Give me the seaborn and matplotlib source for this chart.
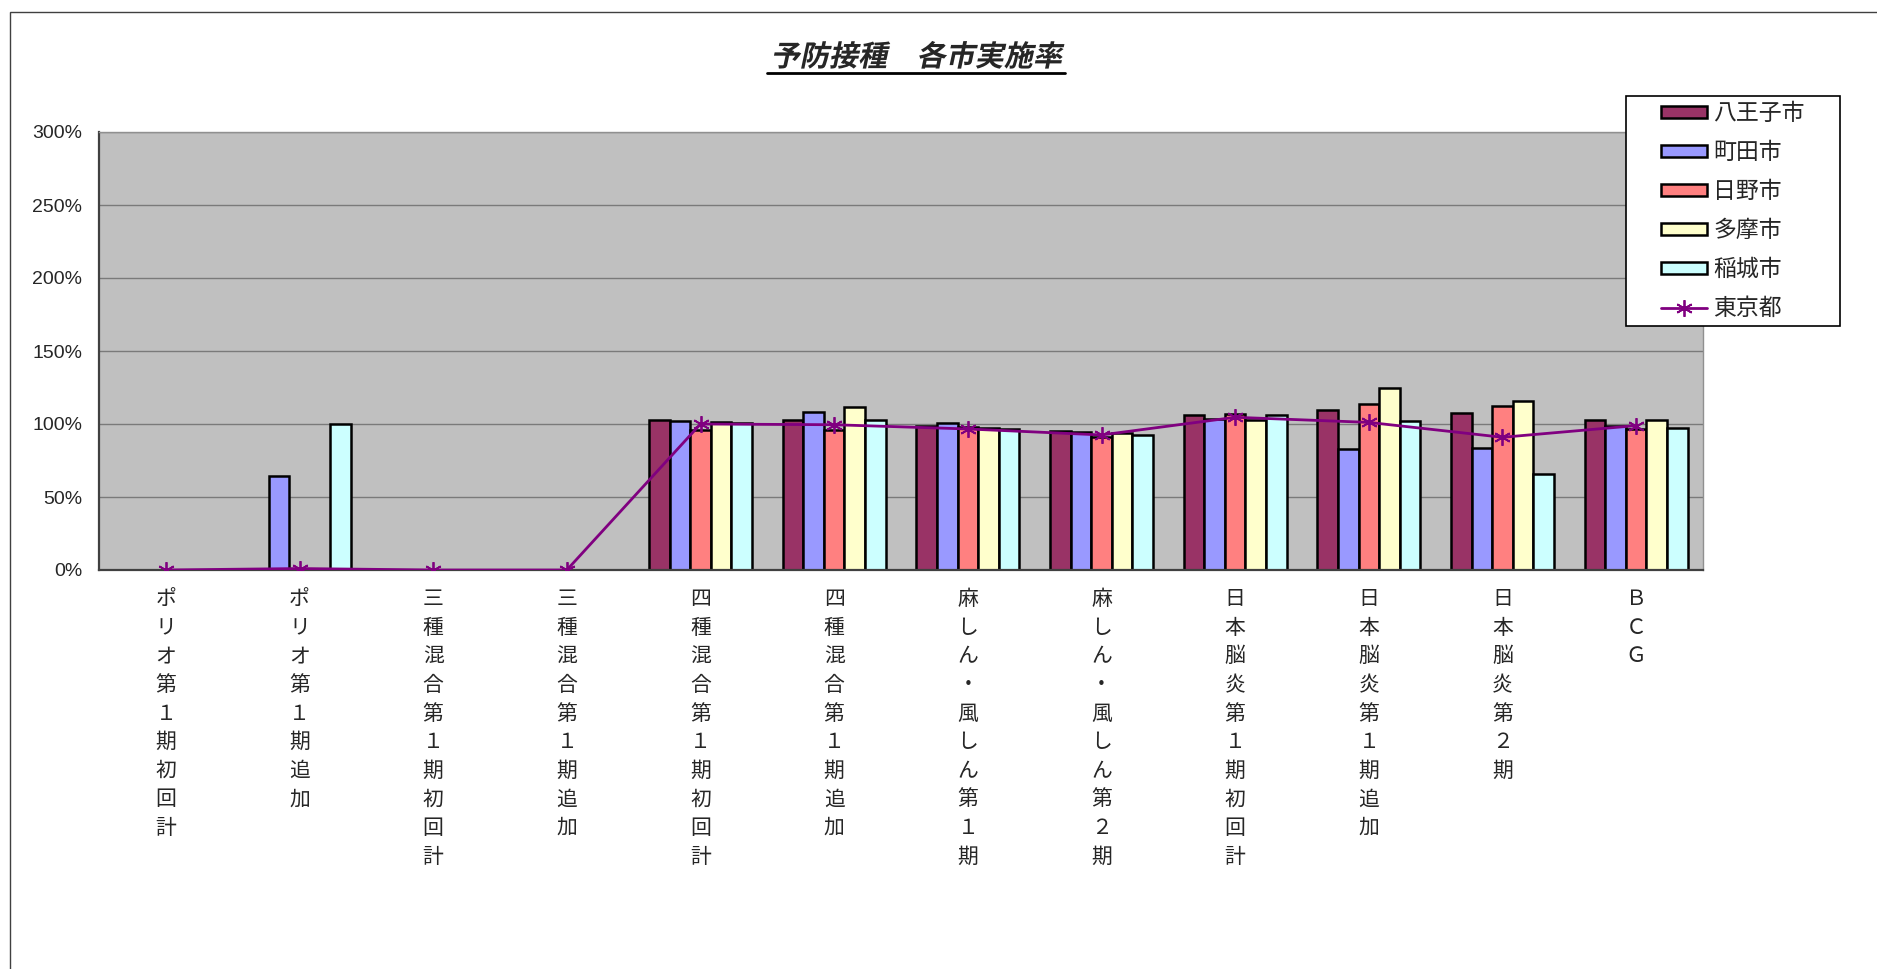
import numpy as np
import pandas as pd
import seaborn as sns
from matplotlib import pyplot as plt
from matplotlib import patheffects
from matplotlib.patches import Patch, Rectangle
from matplotlib.lines import Line2D
from matplotlib.ticker import PercentFormatter, MultipleLocator, FixedLocator
from matplotlib.transforms import Affine2D

# categories (vaccinations)
cats = ['ポリオ第１期初回計', 'ポリオ第１期追加', '三種混合第１期初回計', '三種混合第１期追加',
        '四種混合第１期初回計', '四種混合第１期追加', '麻しん・風しん第１期', '麻しん・風しん第２期',
        '日本脳炎第１期初回計', '日本脳炎第１期追加', '日本脳炎第２期', 'ＢＣＧ']
cities = ['八王子市', '町田市', '日野市', '多摩市', '稲城市']

# rates in %
hachioji = [0, 0, 0, 0, 102.7, 102.7, 98.4, 95.0, 106.2, 109.6, 107.3, 103.0]
machida = [0, 64.1, 0, 0, 101.8, 108.2, 100.7, 94.7, 103.4, 82.9, 83.6, 98.9]
hino = [0, 0, 0, 0, 95.9, 96.1, 97.7, 91.3, 107.1, 113.9, 112.1, 96.6]
tama = [0, 0, 0, 0, 101.6, 111.9, 97.0, 93.6, 102.7, 124.7, 115.5, 103.0]
inagi = [0, 100.0, 0, 0, 100.5, 102.5, 96.3, 92.2, 105.9, 102.3, 65.8, 97.3]
tokyo = [0, 1.0, 0, 0, 100.0, 99.5, 96.6, 92.5, 104.6, 101.1, 90.9, 98.9]

colors = ['#993366', '#9999FF', '#FF8080', '#FFFFCC', '#CCFFFF']
line_color = '#800080'

rows = []
for city, vals in zip(cities, [hachioji, machida, hino, tama, inagi]):
    for c, v in zip(cats, vals):
        rows.append({'接種': c, '市': city, '実施率': v})
df = pd.DataFrame(rows)

sns.set_style('white')
plt.rcParams['font.family'] = ['Noto Sans CJK JP', 'DejaVu Sans']


class Italic(patheffects.AbstractPathEffect):
    # fake oblique for CJK font that has no italic face
    def draw_path(self, renderer, gc, tpath, affine, rgbFace=None):
        renderer.draw_path(gc, tpath, Affine2D().skew_deg(12, 0) + affine, rgbFace)


fig = plt.figure(figsize=(18.77, 9.69), dpi=100)
W, H = 1877, 969
ax = fig.add_axes([99 / W, 1 - 570 / H, (1703 - 99) / W, (570 - 132) / H])
ax.set_facecolor('#C0C0C0')

sns.barplot(data=df, x='接種', y='実施率', hue='市', order=cats, hue_order=cities,
            palette=colors, width=0.77, saturation=1, edgecolor='black', linewidth=1.8,
            errorbar=None, legend=False, ax=ax, zorder=2)
sns.lineplot(x=np.arange(len(cats)), y=tokyo, ax=ax, color=line_color, lw=2,
             marker=(6, 2, 0), markersize=12, markeredgewidth=1.3,
             markeredgecolor=line_color, zorder=3)

ax.set_xlim(-0.5, len(cats) - 0.5)
ax.set_ylim(0, 300)
ax.yaxis.set_major_locator(MultipleLocator(50))
ax.yaxis.set_major_formatter(PercentFormatter(100, decimals=0))
ax.yaxis.grid(True, color='#7a7a7a', lw=1)
ax.xaxis.grid(False)
ax.set_axisbelow(True)
ax.set_xlabel('')
ax.set_ylabel('')

ax.set_xticks(np.arange(len(cats)))
ax.set_xticklabels(['\n'.join(c) for c in cats], fontsize=15, linespacing=1.39, va='top')
ax.xaxis.set_minor_locator(FixedLocator(np.arange(len(cats) + 1) - 0.5))
ax.tick_params(axis='x', which='major', length=0, pad=13)
ax.tick_params(axis='x', which='minor', direction='in', length=6, width=1.2, color='#404040')
ax.tick_params(axis='y', direction='in', length=7, width=1.2, color='#404040', pad=12)
for lab in ax.get_yticklabels():
    lab.set_fontfamily(['Liberation Sans', 'Noto Sans CJK JP'])
    lab.set_fontsize(14)

for side in ['left', 'bottom']:
    ax.spines[side].set_color('#404040')
    ax.spines[side].set_linewidth(1.6)
for side in ['top', 'right']:
    ax.spines[side].set_color('#909090')
    ax.spines[side].set_linewidth(1)

# legend box (Excel style: wide side margins)
lx0, lx1, ly0, ly1 = 1626, 1840, 96, 326
fig.add_artist(Rectangle((lx0 / W, 1 - ly1 / H), (lx1 - lx0) / W, (ly1 - ly0) / H,
                         transform=fig.transFigure, facecolor='white', edgecolor='black',
                         lw=1.2, zorder=4))
handles = [Patch(facecolor=c, edgecolor='black', lw=1.8) for c in colors]
handles.append(Line2D([], [], color=line_color, lw=2, marker=(6, 2, 0), markersize=12,
                      markeredgewidth=1.3))
leg = fig.legend(handles, cities + ['東京都'], loc='center',
                 bbox_to_anchor=((lx0 + lx1) / 2 / W, 1 - (ly0 + ly1) / 2 / H),
                 frameon=False, fontsize=16.5, handlelength=2.0, handleheight=0.45,
                 labelspacing=0.7, borderpad=0.0, handletextpad=0.25)
leg.set_zorder(5)

title = fig.text(916 / W, 1 - 57 / H, '予防接種　各市実施率', ha='center', va='center',
                 fontsize=21, fontweight='bold', path_effects=[Italic()])

# outer chart border
fig.add_artist(Rectangle((10 / W, -0.1), 1.2, 1.1 - 12 / H, transform=fig.transFigure,
                         fill=False, edgecolor='#404040', lw=1))

# underline the title
fig.canvas.draw()
bb = title.get_window_extent(fig.canvas.get_renderer())
uy = (bb.y0 - 1) / H
fig.add_artist(Line2D([bb.x0 / W - 0.002, bb.x1 / W + 0.002], [uy, uy],
                      transform=fig.transFigure, color='black', lw=2))

fig.savefig('out.png', dpi=100)
